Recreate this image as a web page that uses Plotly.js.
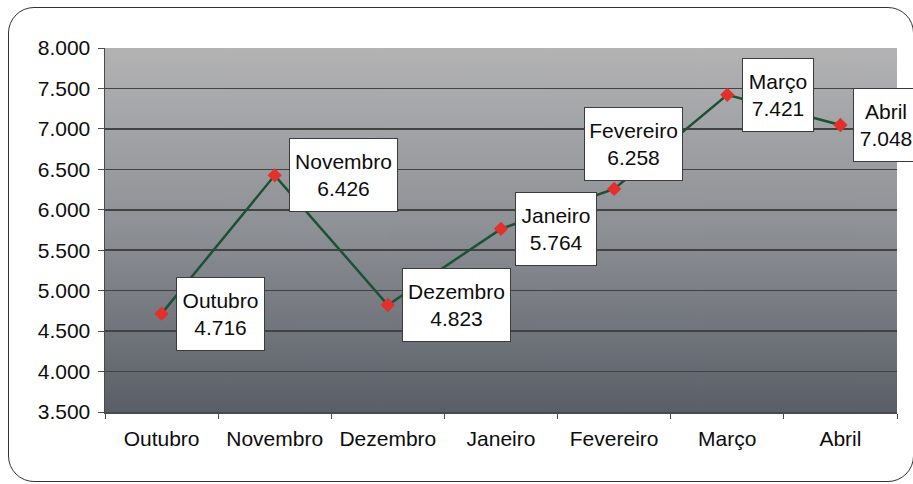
<!DOCTYPE html>
<html>
<head>
<meta charset="utf-8">
<script src="https://cdn.plot.ly/plotly-3.0.1.min.js"></script>
<style>
  html, body { margin: 0; padding: 0; background: #ffffff; }
  #wrap { position: relative; width: 913px; height: 484px; overflow: hidden; }
  #frame { position: absolute; left: 8px; top: 7px; width: 906px; height: 475px;
           border: 1.5px solid #333333; border-radius: 26px; box-sizing: border-box; }
  #chart { position: absolute; left: 0; top: 0; width: 913px; height: 484px; }
</style>
</head>
<body>
<div id="wrap">
  <div id="frame"></div>
  <div id="chart"></div>
</div>
<script>
const months = ['Outubro', 'Novembro', 'Dezembro', 'Janeiro', 'Fevereiro', 'Março', 'Abril'];
const values = [4716, 6426, 4823, 5764, 6258, 7421, 7048];
const valueLabels = ['4.716', '6.426', '4.823', '5.764', '6.258', '7.421', '7.048'];

// label box offsets / sizes (pixels)
const boxOffsetX = [59, 69, 69, 55, 19, 51, 46];
const boxOffsetY = [0, 0, 0, 0, -45, 0, 0];
const boxWidth = [89, 109, 109, 82, 99, 72, 66];

// gradient background image
const cv = document.createElement('canvas');
cv.width = 10; cv.height = 400;
const ctx = cv.getContext('2d');
const g = ctx.createLinearGradient(0, 0, 0, 400);
g.addColorStop(0, '#b3b3b4');
g.addColorStop(0.5, '#8d9095');
g.addColorStop(1, '#5a5f67');
ctx.fillStyle = g;
ctx.fillRect(0, 0, 10, 400);
const bgURL = cv.toDataURL('image/png');

const font = { family: 'Liberation Sans, Arial, sans-serif', size: 21, color: '#0d0d0d' };

const trace = {
  type: 'scatter',
  mode: 'lines+markers',
  x: months,
  y: values,
  line: { color: '#1b5234', width: 2.5 },
  marker: { symbol: 'diamond', size: 11, color: '#e3302c' },
  hoverinfo: 'skip',
  cliponaxis: false
};

const annotations = months.map((m, i) => ({
  x: m, y: values[i], xref: 'x', yref: 'y',
  text: m + '<br>' + valueLabels[i],
  showarrow: true, arrowcolor: 'rgba(0,0,0,0)', arrowwidth: 0.1, arrowhead: 0,
  ax: boxOffsetX[i], ay: boxOffsetY[i],
  width: boxWidth[i] - 2, height: 72,
  align: 'center', valign: 'middle',
  bgcolor: '#ffffff', bordercolor: '#3c3c3c', borderwidth: 1, borderpad: 0,
  font: font
}));

const layout = {
  width: 913, height: 484,
  margin: { l: 105, r: 16, t: 48, b: 72, pad: 0 },
  paper_bgcolor: 'rgba(0,0,0,0)',
  plot_bgcolor: 'rgba(0,0,0,0)',
  separators: ',.',
  showlegend: false,
  font: font,
  images: [{
    source: bgURL, xref: 'paper', yref: 'paper', x: 0, y: 1, sizex: 1, sizey: 1,
    xanchor: 'left', yanchor: 'top', sizing: 'stretch', layer: 'below'
  }],
  xaxis: {
    type: 'category',
    range: [-0.5, 6.5],
    showgrid: false,
    showline: true, linecolor: '#4a4a4a', linewidth: 1.5,
    ticks: 'outside', tickson: 'boundaries', ticklen: 5, tickcolor: '#4a4a4a',
    tickfont: font,
    ticklabelstandoff: 7,
    zeroline: false
  },
  yaxis: {
    range: [3500, 8000],
    dtick: 500, tick0: 3500,
    tickformat: ',.0f',
    showgrid: true, gridcolor: '#424242', gridwidth: 1.6,
    showline: true, linecolor: '#4a4a4a', linewidth: 1.5,
    ticks: 'outside', ticklen: 6, tickcolor: '#4a4a4a',
    tickfont: font,
    ticklabelstandoff: 3,
    zeroline: false
  },
  annotations: annotations
};

Plotly.newPlot('chart', [trace], layout, { staticPlot: true, displayModeBar: false });
</script>
</body>
</html>
